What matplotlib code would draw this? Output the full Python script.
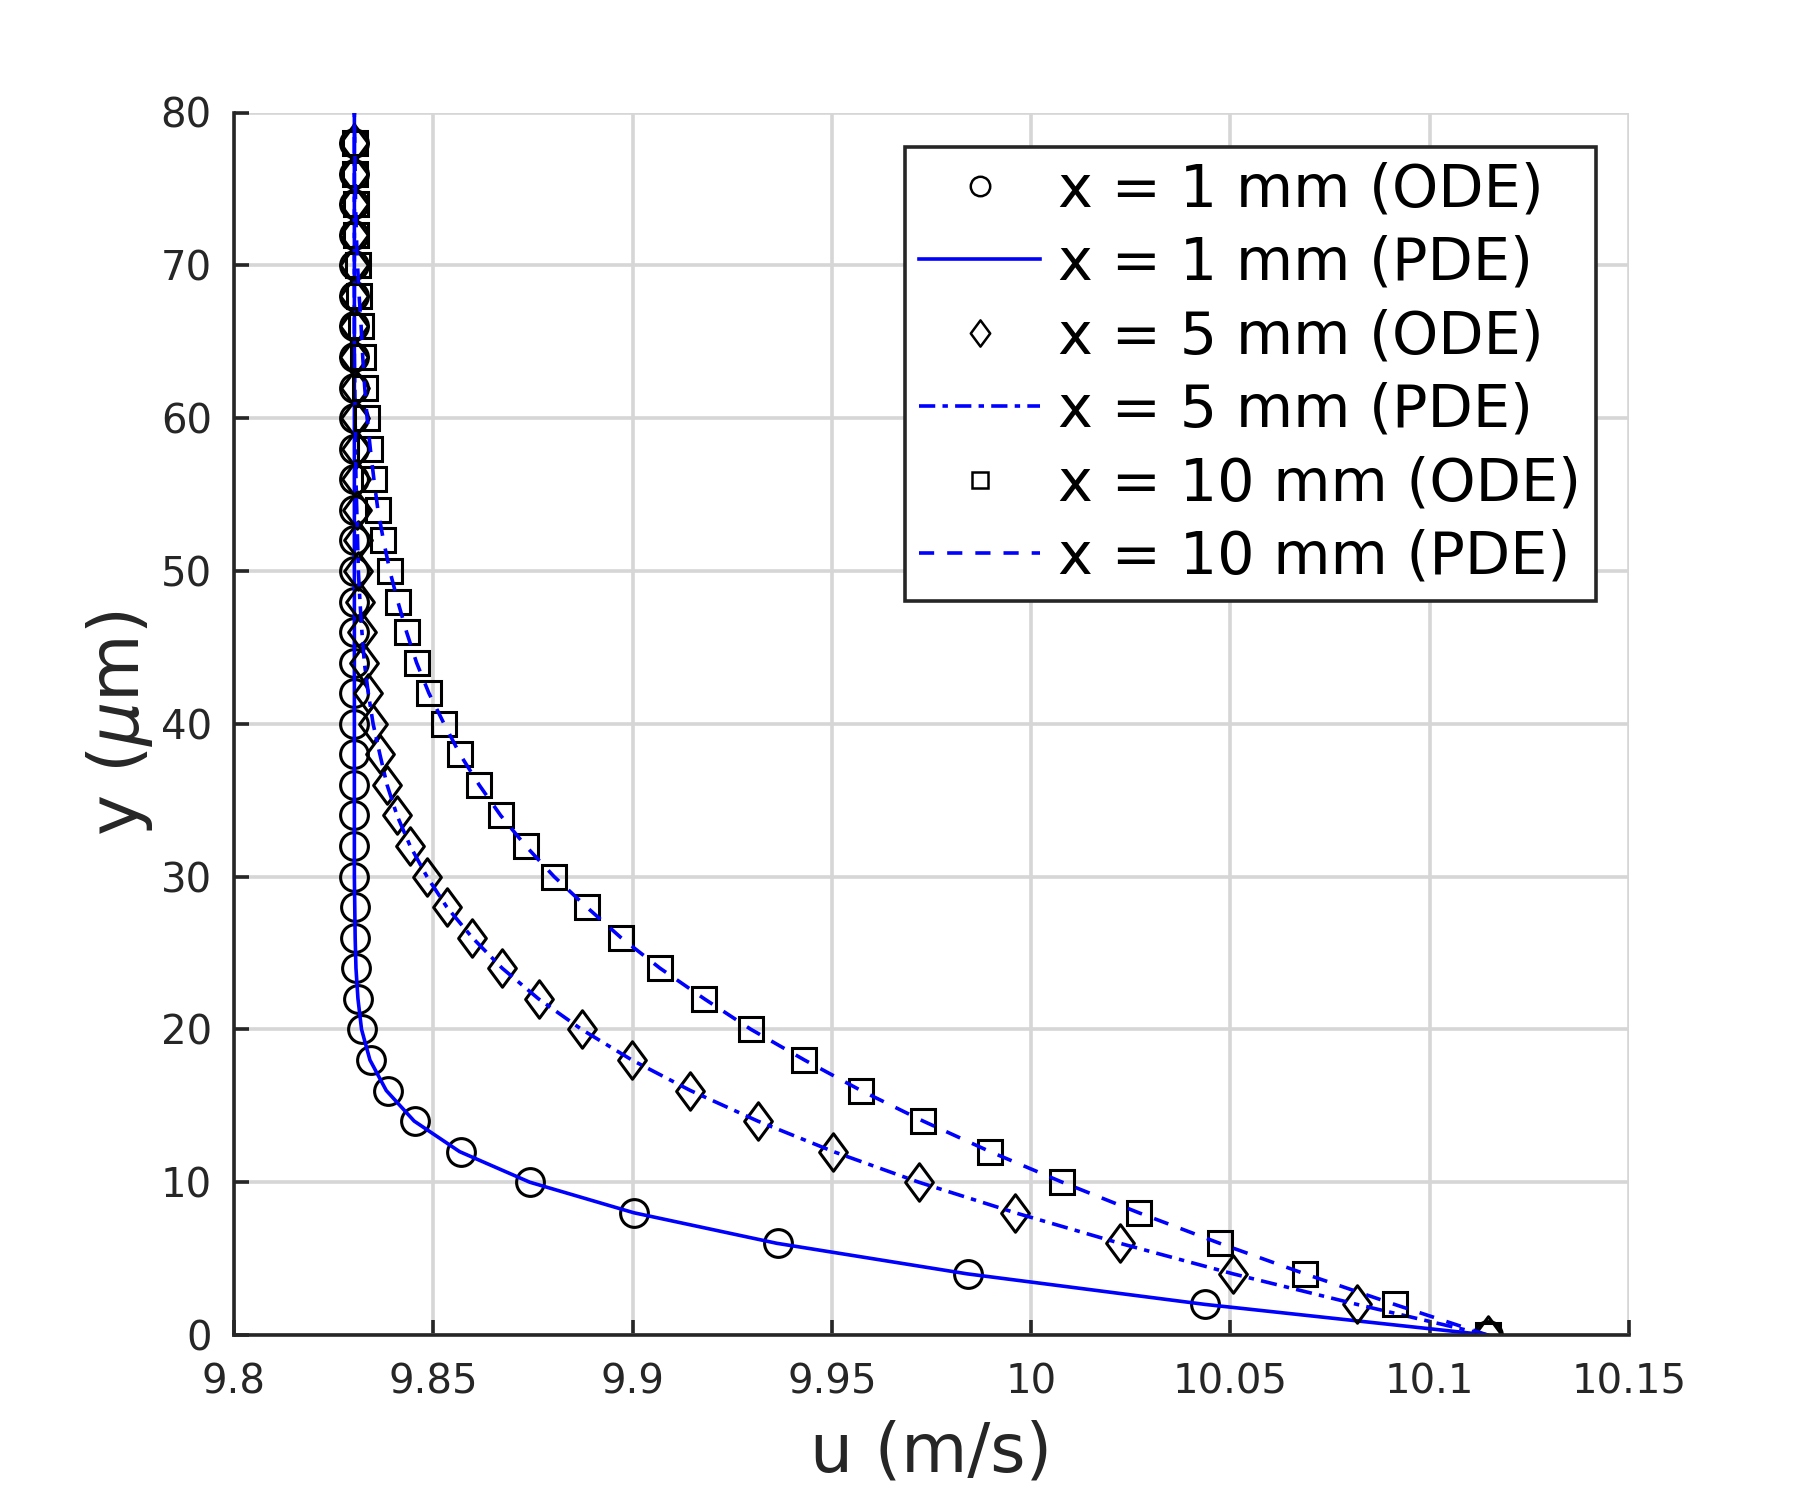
import numpy as np
import matplotlib
matplotlib.use("Agg")
import matplotlib.pyplot as plt
from matplotlib.ticker import FixedLocator
from matplotlib.path import Path

plt.rcParams['font.family'] = ['DejaVu Sans']
plt.rcParams['mathtext.fontset'] = 'dejavusans'

# ---- data ----
y_ode = list(range(0, 80, 2))          # um, marker positions
y_pde = list(range(0, 82, 2))          # um, curve positions

u_ode_1mm = [10.1145, 10.0437, 9.9842, 9.9364, 9.9004, 9.8743, 9.8569, 9.8455,
             9.8386, 9.8344, 9.8322, 9.8312, 9.8306, 9.8304, 9.8303, 9.8302,
             9.8302, 9.8302, 9.8302, 9.8302, 9.8302, 9.8302, 9.8302, 9.8302,
             9.8302, 9.8302, 9.8302, 9.8302, 9.8302, 9.8302, 9.8302, 9.8302,
             9.8302, 9.8302, 9.8302, 9.8302, 9.8302, 9.8302, 9.8302, 9.8302]
u_ode_5mm = [10.1145, 10.0818, 10.0507, 10.0223, 9.9960, 9.9718, 9.9504, 9.9314,
             9.9145, 9.8998, 9.8872, 9.8764, 9.8673, 9.8598, 9.8534, 9.8484,
             9.8442, 9.8409, 9.8384, 9.8366, 9.8349, 9.8337, 9.8327, 9.8321,
             9.8316, 9.8312, 9.8310, 9.8308, 9.8306, 9.8305, 9.8304, 9.8303,
             9.8302, 9.8302, 9.8302, 9.8302, 9.8302, 9.8302, 9.8302, 9.8302]
u_ode_10mm = [10.1145, 10.0912, 10.0687, 10.0473, 10.0270, 10.0078, 9.9897, 9.9729,
              9.9573, 9.9431, 9.9297, 9.9180, 9.9069, 9.8971, 9.8885, 9.8803,
              9.8732, 9.8669, 9.8615, 9.8567, 9.8527, 9.8489, 9.8458, 9.8433,
              9.8411, 9.8391, 9.8375, 9.8361, 9.8351, 9.8342, 9.8334, 9.8328,
              9.8323, 9.8319, 9.8314, 9.8310, 9.8307, 9.8305, 9.8304, 9.8303]

u_pde_1mm = [10.1145, 10.0437, 9.9840, 9.9362, 9.9003, 9.8742, 9.8566, 9.8452,
             9.8382, 9.8341, 9.8320, 9.8311, 9.8306, 9.8304, 9.8303, 9.8302,
             9.8302, 9.8302, 9.8302, 9.8302, 9.8302, 9.8302, 9.8302, 9.8302,
             9.8302, 9.8302, 9.8302, 9.8302, 9.8302, 9.8302, 9.8302, 9.8302,
             9.8302, 9.8302, 9.8302, 9.8302, 9.8302, 9.8302, 9.8302, 9.8302, 9.8302]
u_pde_5mm = [10.1145, 10.0818, 10.0507, 10.0223, 9.9960, 9.9718, 9.9504, 9.9314,
             9.9145, 9.8998, 9.8872, 9.8764, 9.8673, 9.8598, 9.8534, 9.8484,
             9.8442, 9.8409, 9.8384, 9.8366, 9.8349, 9.8337, 9.8327, 9.8321,
             9.8316, 9.8312, 9.8310, 9.8308, 9.8306, 9.8305, 9.8304, 9.8303,
             9.8302, 9.8302, 9.8302, 9.8302, 9.8302, 9.8302, 9.8302, 9.8302, 9.8302]
u_pde_10mm = [10.1145, 10.0912, 10.0687, 10.0473, 10.0270, 10.0078, 9.9897, 9.9729,
              9.9573, 9.9431, 9.9297, 9.9180, 9.9069, 9.8971, 9.8885, 9.8803,
              9.8732, 9.8669, 9.8615, 9.8567, 9.8527, 9.8489, 9.8458, 9.8433,
              9.8411, 9.8391, 9.8375, 9.8361, 9.8351, 9.8342, 9.8334, 9.8328,
              9.8323, 9.8319, 9.8314, 9.8310, 9.8307, 9.8305, 9.8304, 9.8303, 9.8302]

x_ticks = [9.8, 9.85, 9.9, 9.95, 10.0, 10.05, 10.1, 10.15]
x_ticklabels = ['9.8', '9.85', '9.9', '9.95', '10', '10.05', '10.1', '10.15']
y_ticks = [0, 10, 20, 30, 40, 50, 60, 70, 80]

labels = ['x = 1 mm (ODE)', 'x = 1 mm (PDE)', 'x = 5 mm (ODE)',
          'x = 5 mm (PDE)', 'x = 10 mm (ODE)', 'x = 10 mm (PDE)']

# MATLAB-like diamond (taller than wide)
diamond = Path([(0, 1), (0.74, 0), (0, -1), (-0.74, 0), (0, 1)],
               [Path.MOVETO, Path.LINETO, Path.LINETO, Path.LINETO, Path.CLOSEPOLY])

# ---- figure ----
fig = plt.figure(figsize=(9, 7.5), dpi=200)
ax = fig.add_axes([0.13, 0.11, 0.775, 0.815])

blue = (0, 0, 1)
mk = dict(linestyle='none', markerfacecolor='none', markeredgecolor='black',
          markeredgewidth=1.1)

h1, = ax.plot(u_ode_1mm, y_ode, marker='o', markersize=10, **mk)
h2, = ax.plot(u_pde_1mm, y_pde, color=blue, linestyle='-', linewidth=1.3)
h3, = ax.plot(u_ode_5mm, y_ode, marker=diamond, markersize=13.5, **mk)
h4, = ax.plot(u_pde_5mm, y_pde, color=blue, linestyle=(0, (4.5, 2, 1.5, 2)), linewidth=1.3)
h5, = ax.plot(u_ode_10mm, y_ode, marker='s', markersize=8.5, **mk)
h6, = ax.plot(u_pde_10mm, y_pde, color=blue, linestyle=(0, (4.2, 3.6)), linewidth=1.3)

ax.set_xlim(9.8, 10.15)
ax.set_ylim(0, 80)
ax.xaxis.set_major_locator(FixedLocator(x_ticks))
ax.set_xticklabels(x_ticklabels)
ax.yaxis.set_major_locator(FixedLocator(y_ticks))

dark = '#262626'
for s in ['top', 'right']:
    ax.spines[s].set_visible(False)
for s in ['left', 'bottom']:
    ax.spines[s].set_color(dark)
    ax.spines[s].set_linewidth(1.3)
ax.tick_params(axis='both', direction='in', length=5.5, width=1.3, colors=dark,
               labelsize=14.5, labelcolor=dark)
ax.tick_params(axis='x', pad=10)
ax.tick_params(axis='y', pad=8)
ax.grid(True, color='#d6d6d6', linewidth=1.3)
ax.set_axisbelow(True)

ax.set_xlabel('u (m/s)', fontsize=24.5, color=dark, labelpad=6)
ax.set_ylabel(r'y ($\mu$m)', fontsize=25, color=dark, labelpad=2)

leg = ax.legend([h1, h2, h3, h4, h5, h6], labels, loc='upper right',
                bbox_to_anchor=(0.976, 0.972), fontsize=21.2, markerscale=0.7,
                handlelength=2.05, handletextpad=0.3, labelspacing=0.28,
                borderpad=0.25, borderaxespad=0.0, fancybox=False, framealpha=1)
leg.get_frame().set_edgecolor(dark)
leg.get_frame().set_linewidth(1.3)
for lh in leg.legend_handles:
    if lh.get_marker() not in (None, 'None', ''):
        lh.set_markeredgewidth(0.9)

fig.savefig('out.png', dpi=200, facecolor='white')
